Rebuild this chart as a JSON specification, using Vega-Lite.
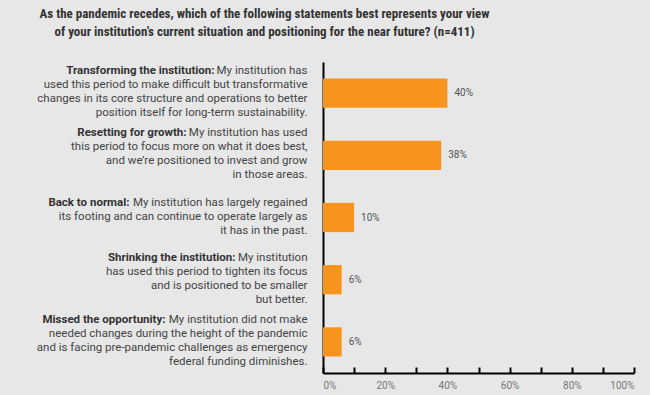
{
  "$schema": "https://vega.github.io/schema/vega-lite/v6.json",
  "width": 311,
  "height": 311,
  "autosize": {"type": "none"},
  "padding": {"left": 323, "top": 62, "right": 16, "bottom": 22},
  "background": "#e7e7e7",
  "title": {
    "text": ["As the pandemic recedes, which of the following statements best represents your view", "of your institution’s current situation and positioning for the near future? (n=411)"],
    "anchor": "middle",
    "frame": "group",
    "dx": -214,
    "offset": 23,
    "font": "Liberation Sans Narrow, Roboto Condensed, DejaVu Sans Condensed, sans-serif",
    "fontSize": 13,
    "fontWeight": "bold",
    "color": "#333333",
    "lineHeight": 18
  },
  "data": {
    "values": [
      {"label": "Transforming the institution:|My institution has|used this period to make difficult but transformative|changes in its core structure and operations to better|position itself for long-term sustainability.", "pct": 0.40},
      {"label": "Resetting for growth:|My institution has used|this period to focus more on what it does best,|and we’re positioned to invest and grow|in those areas.", "pct": 0.38},
      {"label": "Back to normal:|My institution has largely regained|its footing and can continue to operate largely as|it has in the past.", "pct": 0.10},
      {"label": "Shrinking the institution:|My institution|has used this period to tighten its focus|and is positioned to be smaller|but better.", "pct": 0.06},
      {"label": "Missed the opportunity:|My institution did not make|needed changes during the height of the pandemic|and is facing pre-pandemic challenges as emergency|federal funding diminishes.", "pct": 0.06}
    ]
  },
  "resolve": {"axis": {"y": "independent"}},
  "layer": [
    {
      "mark": {"type": "bar", "color": "#F7941D"},
      "encoding": {
        "x": {"field": "pct", "type": "quantitative", "scale": {"domain": [0, 1]}},
        "y": {
          "field": "label", "type": "nominal", "sort": null,
          "scale": {"paddingInner": 0.53, "paddingOuter": 0.265},
          "axis": {
            "orient": "left",
            "title": null,
            "ticks": false,
            "domainColor": "#000000",
            "domainWidth": 2,
            "labelExpr": "slice(split(datum.value, '|'), 1)",
            "labelAlign": "right",
            "labelBaseline": "middle",
            "labelLineHeight": 14,
            "labelPadding": 16,
            "labelOffset": {
              "condition": {"test": "indexof(datum.value, 'Back') == 0", "value": -15},
              "value": -22
            },
            "labelFont": "Roboto",
            "labelFontSize": 11.5,
            "labelColor": "#444444",
            "labelLimit": 0
          }
        }
      }
    },
    {
      "mark": {"type": "text", "align": "left", "dx": 7, "font": "Roboto", "fontSize": 10, "color": "#555555"},
      "encoding": {
        "x": {"field": "pct", "type": "quantitative"},
        "y": {"field": "label", "type": "nominal", "sort": null, "axis": null},
        "text": {"field": "pct", "type": "quantitative", "format": ".0%"}
      }
    },
    {
      "mark": {"type": "point", "opacity": 0},
      "encoding": {
        "x": {"field": "pct", "type": "quantitative"},
        "y": {
          "field": "label", "type": "nominal", "sort": null,
          "axis": {
            "orient": "left",
            "title": null,
            "ticks": false,
            "domain": false,
            "labelExpr": "slice(split(replace(datum.value, regexp('[|][^|]*', 'g'), '|'), '|'), 0, -1)",
            "labelAlign": "right",
            "labelBaseline": "middle",
            "labelLineHeight": 14,
            "labelPadding": {
              "condition": [
                {"test": "indexof(datum.value, 'Transforming') == 0", "value": 109},
                {"test": "indexof(datum.value, 'Resetting') == 0", "value": 137},
                {"test": "indexof(datum.value, 'Back') == 0", "value": 194},
                {"test": "indexof(datum.value, 'Shrinking') == 0", "value": 88}
              ],
              "value": 158
            },
            "labelOffset": {
              "condition": {"test": "indexof(datum.value, 'Back') == 0", "value": -15},
              "value": -22
            },
            "labelFont": "Roboto",
            "labelFontSize": 11.5,
            "labelFontWeight": "bold",
            "labelColor": "#333333",
            "labelLimit": 0
          }
        }
      }
    }
  ],
  "config": {
    "view": {"stroke": null},
    "axisX": {
      "title": null,
      "grid": false,
      "values": [0, 0.2, 0.4, 0.6, 0.8, 1],
      "format": ".0%",
      "domainColor": "#000000",
      "domainWidth": 2,
      "tickColor": "#000000",
      "tickWidth": 2,
      "tickSize": -6,
      "labelFont": "Roboto",
      "labelFontSize": 10,
      "labelColor": "#777777",
      "labelPadding": 13,
      "labelFlush": true
    }
  }
}
